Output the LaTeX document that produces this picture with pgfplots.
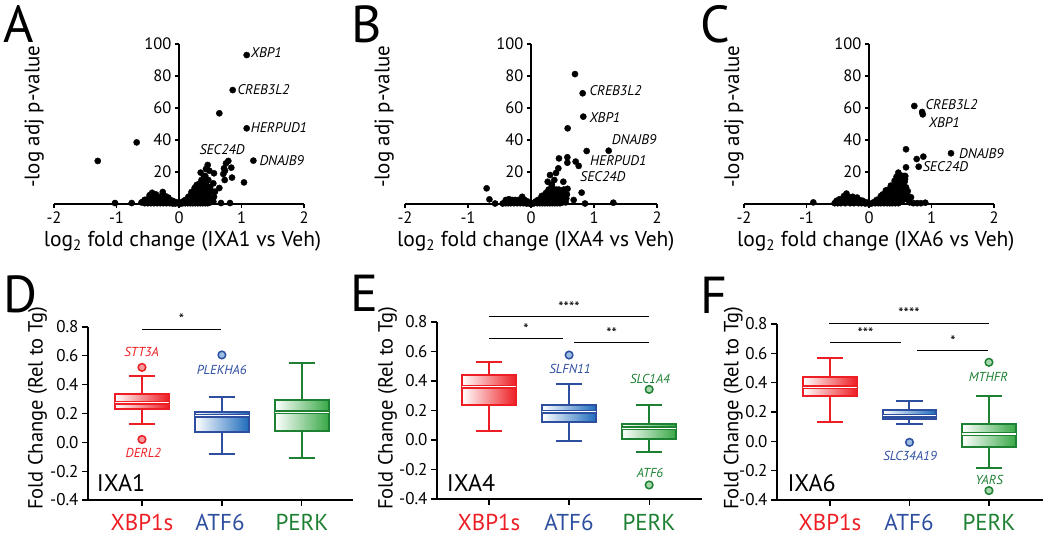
\documentclass[border=0pt]{standalone}
\usepackage{fontspec}
\setmainfont{PT Sans}
\usepackage{pgfplots}
\pgfplotsset{compat=1.18}
\usepgfplotslibrary{statistics}

\definecolor{cred}{RGB}{237,30,36}
\definecolor{cblue}{RGB}{46,78,160}
\definecolor{cgreen}{RGB}{30,128,50}
\definecolor{fred}{RGB}{237,30,36}
\definecolor{fblue}{RGB}{30,108,188}
\definecolor{fgreen}{RGB}{56,168,70}

\newcommand{\fs}[1]{\fontsize{#1}{#1}\selectfont}
% category tick marks on the bottom axis
\newcommand{\cticks}{\draw[line width=1.3pt] (axis cs:1,-0.4) -- ++(0pt,-6pt)
  (axis cs:2,-0.4) -- ++(0pt,-6pt) (axis cs:3,-0.4) -- ++(0pt,-6pt);}

\pgfplotsset{
  volcano/.style={
    scale only axis, anchor=south west, height=160pt,
    xmin=-2, xmax=2, ymin=0, ymax=100,
    axis x line=bottom, axis y line=middle,
    axis line style={-, line width=1.1pt},
    xtick={-2,-1,0,1,2}, ytick={20,40,60,80,100},
    tick align=outside, major tick length=4pt,
    tick style={black, line width=1.1pt},
    tick label style={font=\fs{16.5}},
    /pgf/number format/assume math mode=true,
    clip=false,
  },
  dots/.style={only marks, mark=*, mark size=3.1pt, black},
  fc/.style={
    scale only axis, anchor=south west,
    ymin=-0.4, ymax=0.8,
    axis lines=left, axis line style={-, line width=1.3pt},
    xtick={1,2,3}, xticklabels={,,},
    ytick={-0.4,-0.2,0,0.2,0.4,0.6,0.8},
    yticklabel style={/pgf/number format/.cd, fixed, fixed zerofill, precision=1},
    tick align=outside, major tick length=6pt,
    tick style={black, line width=1.3pt},
    tick label style={font=\fs{17}},
    /pgf/number format/assume math mode=true,
    clip=false,
  },
  bx/.style 2 args={
    boxplot/draw direction=y,
    boxplot/box extend=0.675, boxplot/whisker extend=0.33,
    boxplot/every box/.style={draw=#1, line width=2pt, left color=white, right color=#2},
    boxplot/every whisker/.style={draw=#1, line width=2pt},
    boxplot/every median/.style={draw=#1, line width=1.2pt, double=white, double distance=1.6pt},
    mark=*, mark size=3.8pt, mark options={draw=#1, fill=#2!45, line width=1.5pt},
  },
}

\begin{document}
\begin{tikzpicture}[x=1pt,y=1pt]
\useasboundingbox (0,0) rectangle (1050,540);

% ---------- A ----------
\begin{axis}[volcano, at={(54pt,336pt)}, width=250pt]
\addplot[dots] coordinates {
(1.083,93.1) (0.859,71.2) (0.645,56.7) (1.083,47.3) (1.19,27.1) (-0.677,38.5) (-1.30,26.9)
(1.04,13.5) (-1.024,0.6) (-0.757,0.6) (-0.573,1.5) (0.672,0.6) (0.816,0.6)
(0.789,26.9) (0.752,25.4) (0.72,22.3) (0.837,22.7) (0.736,20.8) (0.709,18.75) (0.848,16.5)
(0.731,15) (0.645,10)
(0.459,24.4) (0.432,21.9) (0.347,19.6) (0.485,20.8) (0.56,19.2) (0.4,17.5) (0.469,15)
(0.336,12.9) (0.283,11.9) (0.416,13.3) (0.496,10.4) (0.549,12.9) (0.576,7.7) (-0.544,2.5)
(-0.60,1) (-0.55,0.5) (-0.55,2.5) (-0.50,0.5) (-0.50,3) (-0.47,5.5) (-0.45,0.5) (-0.45,3)
(-0.43,7) (-0.40,0.5) (-0.40,3) (-0.40,5.5) (-0.37,6) (-0.35,0.5) (-0.35,3) (-0.32,4.5)
(-0.30,0.5) (-0.30,2.5) (-0.27,5) (-0.26,7.5) (-0.25,0.5) (-0.25,3) (-0.22,5) (-0.20,0.5)
(-0.20,3) (-0.17,4) (-0.15,0.5) (-0.15,2.5) (-0.10,0.3) (-0.10,2) (-0.06,0.3) (-0.05,1.2)
(0,0.2) (0.03,0.3)
(0.06,0.5) (0.06,1.5) (0.10,0.5) (0.10,2.5) (0.14,0.5) (0.14,2.5) (0.15,4.5) (0.18,0.5)
(0.18,3) (0.19,5.5) (0.20,7.5) (0.22,0.5) (0.22,3) (0.23,5.5) (0.24,8) (0.25,10) (0.26,0.5)
(0.26,3) (0.27,6) (0.28,8.5) (0.29,11) (0.30,0.5) (0.30,3) (0.31,6) (0.32,9) (0.32,12.5)
(0.34,0.5) (0.34,3) (0.35,6) (0.35,9) (0.36,12) (0.36,15) (0.38,0.5) (0.38,3) (0.39,6)
(0.39,9) (0.40,12) (0.40,15) (0.42,17.5) (0.42,0.5) (0.43,3) (0.43,6) (0.43,9) (0.44,12)
(0.45,15) (0.46,0.5) (0.47,3.5) (0.47,7) (0.48,10.5) (0.50,1) (0.51,4) (0.52,8) (0.55,1.5)
(0.56,4.5)
};
\end{axis}

% ---------- B ----------
\begin{axis}[volcano, at={(405pt,336pt)}, width=252pt]
\addplot[dots] coordinates {
(0.698,81.2) (0.82,69.2) (0.83,54.6) (0.582,47.3) (0.884,33.1) (1.233,33.3) (0.444,28.5)
(0.577,29.2) (0.577,25.8) (0.709,26.5) (0.757,23.8) (0.302,18.1) (0.397,19.4) (0.434,22.3)
(0.513,13.9) (0.265,13.9) (0.804,7.1) (0.677,2.5) (0.857,0.3) (1.307,0.8) (-0.704,9.8)
(-0.66,2.9) (-0.57,0.3) (-0.45,0.3) (0.52,9) (0.50,6) (0.55,4) (0.37,15) (0.33,12)
(-0.40,0.5) (-0.40,2.5) (-0.36,0.5) (-0.35,3) (-0.32,0.5) (-0.30,2.5) (-0.27,0.5)
(-0.25,2.5) (-0.22,0.5) (-0.20,2.5) (-0.17,0.5) (-0.15,3) (-0.14,4.5) (-0.12,0.5)
(-0.10,2.5) (-0.07,0.3) (-0.05,1.5) (-0.02,0.2) (0.02,0.2)
(0.05,0.5) (0.07,1.5) (0.10,0.5) (0.11,2.5) (0.14,0.5) (0.15,3) (0.17,5) (0.18,0.5)
(0.19,3) (0.21,5.5) (0.22,0.5) (0.23,3) (0.24,7) (0.26,0.5) (0.27,3) (0.27,5.5) (0.28,9)
(0.30,0.5) (0.31,3) (0.31,6) (0.32,9) (0.33,12) (0.34,0.5) (0.35,3) (0.35,6) (0.36,9)
(0.38,0.5) (0.39,3) (0.39,6) (0.40,9) (0.42,0.5) (0.43,3) (0.43,6) (0.44,9) (0.46,0.5)
(0.47,3) (0.48,6) (0.50,1) (0.51,3.5) (0.53,6) (0.55,1) (0.56,3.5) (0.57,6) (0.58,9.5)
};
\end{axis}

% ---------- C ----------
\begin{axis}[volcano, at={(744pt,336pt)}, width=250pt]
\addplot[dots] coordinates {
(0.725,61.25) (0.85,57.5) (0.86,56) (0.592,34.2) (0.763,28.1) (0.869,29.6) (1.312,31.7)
(0.795,23.3) (0.592,22.9) (0.469,19.6) (0.56,17.5) (0.576,15.6) (0.672,4.2) (0.592,10.4)
(0.71,0.5) (0.77,0.5) (0.83,0.5) (0.90,0.8) (-0.891,1) (0.50,18) (0.44,17) (0.52,16)
(0.55,13) (0.62,8) (0.60,6) (0.65,1)
(-0.55,0.5) (-0.52,2) (-0.50,0.5) (-0.47,3) (-0.45,0.5) (-0.42,2.5) (-0.40,5) (-0.38,0.5)
(-0.36,6.5) (-0.35,2.5) (-0.33,4.5) (-0.30,0.5) (-0.28,2.5) (-0.26,4.5) (-0.24,0.5)
(-0.22,2.5) (-0.19,4) (-0.17,0.5) (-0.15,2.5) (-0.12,0.5) (-0.10,2) (-0.06,0.3) (-0.04,1)
(0,0.2)
(0.04,0.3) (0.07,1) (0.10,0.5) (0.12,2.5) (0.15,0.5) (0.16,3) (0.19,5) (0.19,0.5) (0.21,3)
(0.22,6) (0.24,0.5) (0.25,3) (0.26,6) (0.27,8.5) (0.29,0.5) (0.30,3) (0.30,6) (0.31,9)
(0.33,0.5) (0.34,3) (0.34,6) (0.35,9) (0.35,11.5) (0.37,0.5) (0.38,3) (0.38,6) (0.39,9)
(0.40,12) (0.41,14.5) (0.42,0.5) (0.43,3) (0.43,6) (0.44,9) (0.45,12) (0.46,15) (0.47,0.5)
(0.48,3) (0.48,6) (0.49,9) (0.50,12) (0.51,15) (0.53,2) (0.54,5) (0.55,8) (0.56,11)
(0.57,14) (0.58,17.5) (0.60,3) (0.61,6)
};
\end{axis}

% ---------- D ----------
\begin{axis}[fc, at={(88pt,40pt)}, width=265pt, height=173pt, xmin=0.325, xmax=3.64]
\addplot[bx={cred}{fred}, boxplot prepared={draw position=1, lower whisker=0.125,
  lower quartile=0.23, median=0.275, upper quartile=0.333, upper whisker=0.46}]
  table[row sep=\\, y index=0] {v\\ 0.52\\ 0.02\\};
\addplot[bx={cblue}{fblue}, boxplot prepared={draw position=2, lower whisker=-0.083,
  lower quartile=0.074, median=0.185, upper quartile=0.21, upper whisker=0.317}]
  table[row sep=\\, y index=0] {v\\ 0.606\\};
\addplot[bx={cgreen}{fgreen}, boxplot prepared={draw position=3, lower whisker=-0.111,
  lower quartile=0.081, median=0.208, upper quartile=0.291, upper whisker=0.55}]
  coordinates {};
\cticks
\end{axis}

% ---------- E ----------
\begin{axis}[fc, at={(437pt,41pt)}, width=265pt, height=177pt, xmin=0.35, xmax=3.66]
\addplot[bx={cred}{fred}, boxplot prepared={draw position=1, lower whisker=0.061,
  lower quartile=0.237, median=0.362, upper quartile=0.441, upper whisker=0.531}]
  coordinates {};
\addplot[bx={cblue}{fblue}, boxplot prepared={draw position=2, lower whisker=-0.007,
  lower quartile=0.12, median=0.192, upper quartile=0.237, upper whisker=0.382}]
  table[row sep=\\, y index=0] {v\\ 0.576\\};
\addplot[bx={cgreen}{fgreen}, boxplot prepared={draw position=3, lower whisker=-0.079,
  lower quartile=0.005, median=0.079, upper quartile=0.108, upper whisker=0.237}]
  table[row sep=\\, y index=0] {v\\ 0.343\\ -0.305\\};
\cticks
\end{axis}

% ---------- F ----------
\begin{axis}[fc, at={(777pt,40pt)}, width=266pt, height=176pt, xmin=0.333, xmax=3.68]
\addplot[bx={cred}{fred}, boxplot prepared={draw position=1, lower whisker=0.13,
  lower quartile=0.309, median=0.368, upper quartile=0.441, upper whisker=0.57}]
  coordinates {};
\addplot[bx={cblue}{fblue}, boxplot prepared={draw position=2, lower whisker=0.12,
  lower quartile=0.152, median=0.175, upper quartile=0.214, upper whisker=0.275}]
  table[row sep=\\, y index=0] {v\\ -0.007\\};
\addplot[bx={cgreen}{fgreen}, boxplot prepared={draw position=3, lower whisker=-0.184,
  lower quartile=-0.036, median=0.05, upper quartile=0.12, upper whisker=0.311}]
  table[row sep=\\, y index=0] {v\\ 0.539\\ -0.336\\};
\cticks
\end{axis}

% ---------- panel letters ----------
\foreach \l/\x/\y in {A/3/535, B/351/535, C/700/535, D/3/265, E/350/265, F/700/263}
  \node[anchor=north west, inner sep=0, font=\fs{52}] at (\x,\y) {\l};

% ---------- axis titles ----------
\foreach \x in {39.3, 389.3, 739}
  \node[rotate=90, anchor=base, font=\fs{21}] at (\x,423.3) {-log adj p-value};
\foreach \x/\t in {182.5/IXA1, 535.8/IXA4, 875.8/IXA6}
  \node[anchor=base, font=\fs{21.5}] at (\x,293.3) {log\textsubscript{2} fold change (\t\ vs Veh)};
\foreach \x in {42.5, 392.7, 738.3}
  \node[rotate=90, anchor=base, font=\fs{20.5}] at (\x,131.5) {Fold Change (Rel to Tg)};

% ---------- gene labels (volcano) ----------
\begin{scope}[every node/.style={anchor=west, inner sep=0, font=\fs{14}\itshape}]
\node at (250.7,487.3) {XBP1};
\node at (237.3,450) {CREB3L2};
\node at (250.7,412.7) {HERPUD1};
\node at (199.3,390.7) {SEC24D};
\node at (259.3,379.3) {DNAJB9};
\node at (589.3,449.3) {CREB3L2};
\node at (589.3,422.7) {XBP1};
\node at (611.7,400) {DNAJB9};
\node at (590,379) {HERPUD1};
\node at (580,363.5) {SEC24D};
\node at (925.3,435) {CREB3L2};
\node at (928.7,417.7) {XBP1};
\node at (959,386) {DNAJB9};
\node at (922.7,373.3) {SEC24D};
\end{scope}

% ---------- outlier labels ----------
\begin{scope}[every node/.style={inner sep=0, font=\fs{13}\itshape}]
\node[text=cred] at (141.7,187.7) {STT3A};
\node[text=cred] at (143.3,86.7) {DERL2};
\node[text=cblue] at (221.7,170) {PLEKHA6};
\node[text=cblue] at (570,171) {SLFN11};
\node[text=cgreen] at (650,161) {SLC1A4};
\node[text=cgreen] at (650,66.7) {ATF6};
\node[text=cgreen] at (988.3,163.3) {MTHFR};
\node[text=cblue] at (910,84) {SLC34A19};
\node[text=cgreen] at (989.3,60) {YARS};
\end{scope}

% ---------- treatment labels ----------
\foreach \x/\t in {96.7/IXA1, 446.7/IXA4, 787.3/IXA6}
  \node[anchor=west, inner sep=0, font=\fs{24}] at (\x,57) {\t};

% ---------- category labels ----------
\foreach \x/\c/\t in {142/cred/XBP1s, 220/cblue/ATF6, 302/cgreen/PERK,
                      489/cred/XBP1s, 569/cblue/ATF6, 649/cgreen/PERK,
                      830/cred/XBP1s, 909/cblue/ATF6, 989/cgreen/PERK}
  \node[anchor=base, text=\c, font=\fs{23}] at (\x,9.5) {\t};

% ---------- significance ----------
\begin{scope}[line width=1.2pt]
\draw (142,210.7) -- (221,210.7);
\draw (489.3,223.3) -- (649.3,223.3);
\draw (489.3,201.7) -- (562.7,201.7);
\draw (574,197.7) -- (649.3,197.7);
\draw (829.3,216.7) -- (989.3,216.7);
\draw (830,197.3) -- (901,197.3);
\draw (917.3,189.3) -- (988.3,189.3);
\end{scope}
\begin{scope}[every node/.style={inner sep=0, font=\fs{15}}]
\node at (181.5,221) {*};
\node at (569,233.3) {****};
\node at (526,210.7) {*};
\node at (611.7,206.7) {**};
\node at (909,227.3) {****};
\node at (865.5,206.7) {***};
\node at (953,198.7) {*};
\end{scope}
\end{tikzpicture}
\end{document}
